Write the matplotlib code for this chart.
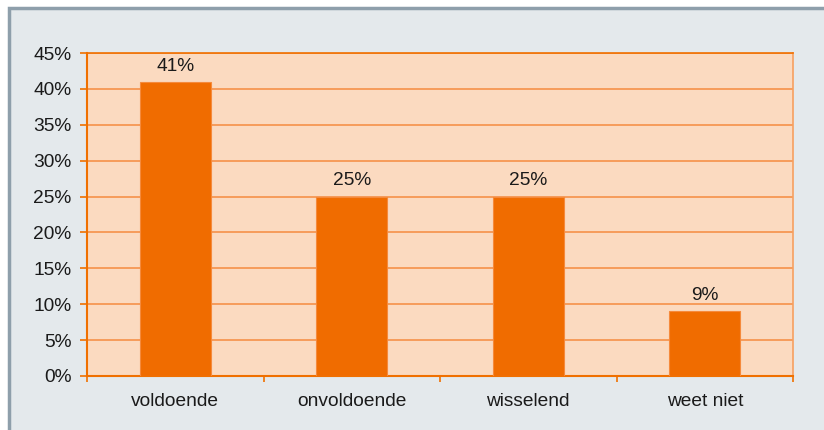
import numpy as np
import matplotlib.pyplot as plt
from matplotlib.patches import Rectangle

categories = ['voldoende', 'onvoldoende', 'wisselend', 'weet niet']
values = [41, 25, 25, 9]
labels = ['41%', '25%', '25%', '9%']
yticks = [0, 5, 10, 15, 20, 25, 30, 35, 40, 45]

plt.rcParams['font.family'] = ['Liberation Sans', 'DejaVu Sans']

W, H = 824, 430
fig = plt.figure(figsize=[W / 100, H / 100], dpi=100)
fig.patch.set_facecolor('white')

# grey panel with border (runs off the right and bottom edges)
fig.patches.append(Rectangle((9 / W, -0.1), 1.1, 1.1 - 8 / H, transform=fig.transFigure,
                             facecolor='#E4E9EC', edgecolor='#8E9FAB', linewidth=2.5,
                             zorder=-10))

left, right, top, bottom = 87, 793, 53, 376
ax = fig.add_axes([left / W, 1 - bottom / H, (right - left) / W, (bottom - top) / H])
ax.set_facecolor('#FBDAC0')

fs = 13.8
x = np.arange(len(categories))
ax.bar(x, values, width=0.4, color='#F06C00', edgecolor='#F58A3C', linewidth=0.8, zorder=3)
for xi, v, lab in zip(x, values, labels):
    ax.text(xi, v + 1.0, lab, ha='center', va='bottom', fontsize=fs, color='#1a1a1a')

ax.set_xlim(-0.5, len(categories) - 0.5)
ax.set_ylim(0, 45)
ax.set_yticks(yticks)
ax.set_yticklabels([f'{t}%' for t in yticks])
ax.yaxis.grid(True, color='#F5914A', linewidth=1.2, zorder=1)
ax.set_axisbelow(True)

ax.set_xticks(x)
ax.set_xticklabels(categories)
ax.set_xticks(np.arange(-0.5, len(categories)), minor=True)
ax.tick_params(axis='x', which='major', length=0, pad=12, labelsize=fs, labelcolor='#1a1a1a')
ax.tick_params(axis='x', which='minor', length=4, width=1.2, color='#F07000', direction='out')
ax.tick_params(axis='y', length=5, width=1.2, color='#F07000', direction='out', pad=6,
               labelsize=fs, labelcolor='#1a1a1a')

for s in ['left', 'bottom']:
    ax.spines[s].set_color('#F07000')
    ax.spines[s].set_linewidth(1.5)
ax.spines['top'].set_color('#F07000')
ax.spines['top'].set_linewidth(1.2)
ax.spines['right'].set_color('#F7A060')
ax.spines['right'].set_linewidth(1.2)

fig.savefig('out.png', dpi=100)
